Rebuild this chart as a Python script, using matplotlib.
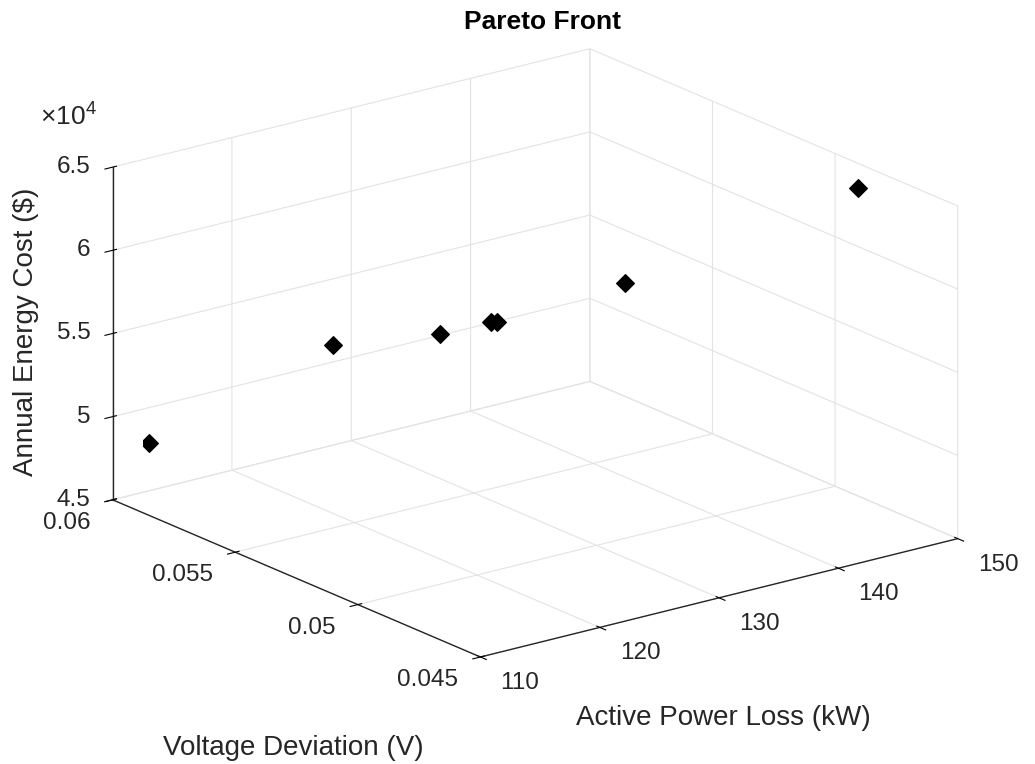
import numpy as np
import matplotlib.pyplot as plt
from mpl_toolkits.mplot3d import proj3d

plt.rcParams['font.family'] = ['Liberation Sans', 'DejaVu Sans']
plt.rcParams['mathtext.fontset'] = 'custom'
plt.rcParams['mathtext.rm'] = 'Liberation Sans'
plt.rcParams['grid.color'] = '#e3e3e3'
plt.rcParams['grid.linewidth'] = 0.8

# Pareto solutions
power_loss = [111.5, 119.2, 123.6, 126.3, 126.2, 132.9, 147.8]              # kW
volt_dev = [0.05925, 0.0555, 0.05325, 0.0525, 0.0522, 0.05025, 0.048]      # V
energy_cost = [48600, 55500, 56800, 57500, 57700, 60100, 64600]           # $

xticks = [110, 120, 130, 140, 150]
yticks = [0.045, 0.05, 0.055, 0.06]
zticks = [45000, 50000, 55000, 60000, 65000]
xlabels = ['110', '120', '130', '140', '150']
ylabels = ['0.045', '0.05', '0.055', '0.06']
zlabels = ['4.5', '5', '5.5', '6', '6.5']

txt = '#262626'
tick_fs = 17.5
lab_fs = 20

fig = plt.figure(figsize=(10.35, 7.64), dpi=100)
ax = fig.add_axes([0.0071, 0.0246, 1, 1], projection='3d', proj_type='ortho')
ax.view_init(elev=19.0, azim=-127.3)
ax.set_box_aspect((602, 609, 353), zoom=1.173)

ax.scatter(power_loss, volt_dev, energy_cost, marker='D', s=80, c='k',
           depthshade=False)

ax.set_xlim(110, 150)
ax.set_ylim(0.045, 0.06)
ax.set_zlim(45000, 65000)
ax.set_xticks(xticks)
ax.set_yticks(yticks)
ax.set_zticks(zticks)

for axis in (ax.xaxis, ax.yaxis, ax.zaxis):
    axis.set_pane_color((1, 1, 1, 0))
    axis.pane.set_edgecolor('#e3e3e3')
    axis.line.set_color(txt)
    axis.line.set_linewidth(1.0)
    axis.set_tick_params(labelbottom=False)
    axis.label.set_visible(False)
    axis.offsetText.set_visible(False)

# tick labels placed like MATLAB does, at the projected tick positions
fig.canvas.draw()
M = ax.get_proj()

def tick_label(x, y, z, s, dx, dy, ha):
    px, py, _ = proj3d.proj_transform(x, y, z, M)
    ax.annotate(s, (px, py), xytext=(dx, dy), textcoords='offset pixels',
                ha=ha, va='center', fontsize=tick_fs, color=txt,
                annotation_clip=False)

for t, s in zip(xticks, xlabels):
    tick_label(t, 0.045, 45000, s, 20, -26, 'left')
for t, s in zip(yticks, ylabels):
    tick_label(110, t, 45000, s, -22, -23, 'right')
for t, s in zip(zticks, zlabels):
    tick_label(110, 0.06, t, s, -22, 0, 'right')

fig.text(543 / 1035, 1 - 22 / 764, 'Pareto Front', ha='center', va='center',
         fontsize=19, fontweight='bold')
fig.text(26 / 1035, 1 - 332 / 764, 'Annual Energy Cost ($)', rotation=90,
         ha='center', va='center', fontsize=lab_fs, color=txt)
fig.text(723 / 1035, 1 - 718 / 764, 'Active Power Loss (kW)', ha='center',
         va='center', fontsize=lab_fs, color=txt)
fig.text(293 / 1035, 1 - 748 / 764, 'Voltage Deviation (V)', ha='center',
         va='center', fontsize=lab_fs, color=txt)
fig.text(40 / 1035, 1 - 116 / 764, r'$\times10^{4}$', ha='left', va='center',
         fontsize=19, color=txt)

fig.savefig('out.png', dpi=100)
